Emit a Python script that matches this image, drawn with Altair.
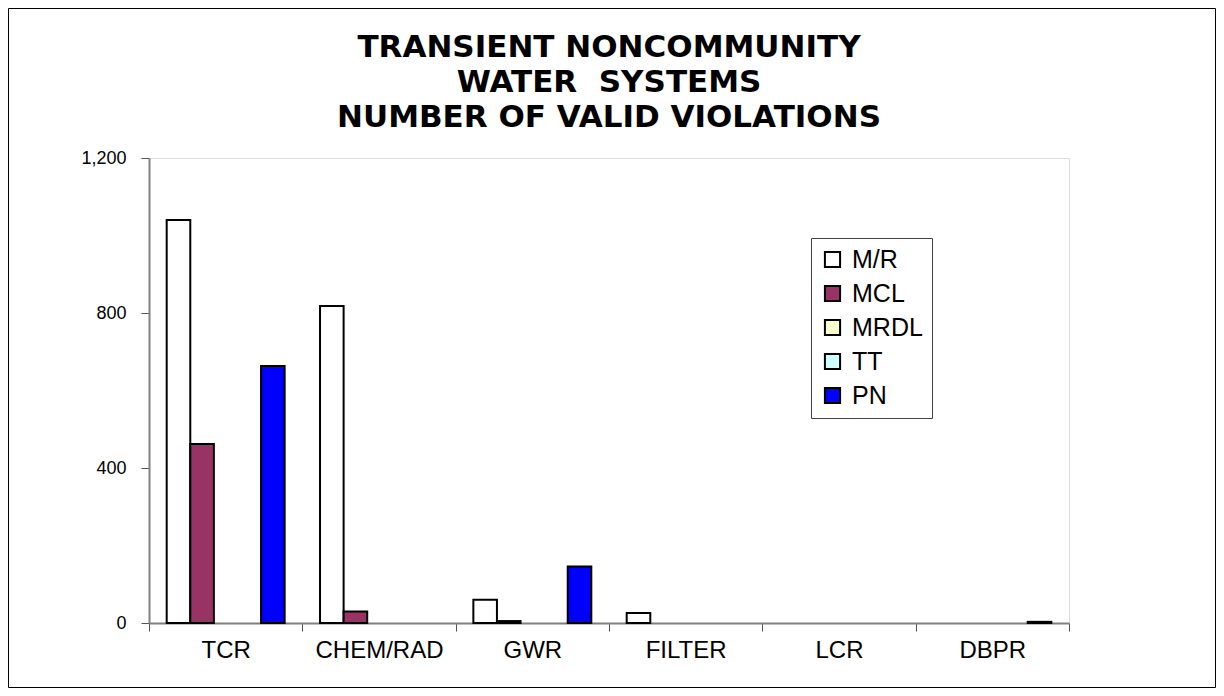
import altair as alt
import pandas as pd

categories = ["TCR", "CHEM/RAD", "GWR", "FILTER", "LCR", "DBPR"]
series = ["M/R", "MCL", "MRDL", "TT", "PN"]
mr = [1040, 818, 60, 26, 0, 0]
mcl = [462, 30, 5, 0, 0, 0]
mrdl = [0, 0, 0, 0, 0, 0]
tt = [0, 0, 0, 0, 0, 0]
pn = [663, 0, 146, 0, 0, 3]
colors = ["#FFFFFF", "#993366", "#FFFFCC", "#CCFFFF", "#0000FF"]
title_lines = ["TRANSIENT NONCOMMUNITY", "WATER\u00a0 SYSTEMS", "NUMBER OF VALID VIOLATIONS"]

rows = []
for s, vals in zip(series, [mr, mcl, mrdl, tt, pn]):
    for c, v in zip(categories, vals):
        rows.append({"category": c, "series": s, "value": v})
df = pd.DataFrame(rows)

FONT = "Liberation Sans"
TFONT = "DejaVu Sans"

bars = alt.Chart(df).transform_filter("datum.value > 0").mark_bar(
    stroke="black", strokeWidth=2
).encode(
    x=alt.X("category:N", sort=categories,
            scale=alt.Scale(domain=categories, paddingInner=0, paddingOuter=0),
            axis=alt.Axis(title=None, labelAngle=0, tickBand="extent", tickSize=8,
                          labelPadding=7, labelFontSize=24, labelFont=FONT,
                          labelColor="black", tickColor="#555555",
                          domainColor="#808080", domainWidth=2)),
    xOffset=alt.XOffset("series:N", sort=series,
                        scale=alt.Scale(domain=series, paddingInner=0, paddingOuter=0.75)),
    y=alt.Y("value:Q", scale=alt.Scale(domain=[0, 1200]),
            axis=alt.Axis(title=None, values=[0, 400, 800, 1200], format=",d", grid=False,
                          tickSize=8, labelPadding=15, labelFontSize=18, labelFont=FONT,
                          labelColor="black", tickColor="#555555",
                          domainColor="#808080", domainWidth=2)),
    color=alt.Color("series:N", sort=series,
                    scale=alt.Scale(domain=series, range=colors),
                    legend=alt.Legend(title=None, orient="none", legendX=662, legendY=80,
                                      fillColor="white", strokeColor="#444444",
                                      padding=9, symbolType="square", symbolSize=230,
                                      symbolStrokeColor="black", symbolStrokeWidth=2,
                                      labelFontSize=25, labelFont=FONT, labelColor="black",
                                      rowPadding=8, labelOffset=7)),
)

frame = alt.Chart(alt.Data(values=[{"a": 1}])).mark_rect(
    filled=False, stroke="black", strokeWidth=1
).encode(
    x=alt.value(-140.5), x2=alt.value(1066.5),
    y=alt.value(-149.5), y2=alt.value(529.5),
)

chart = alt.layer(bars, frame).properties(
    width=920, height=465,
    padding=0,
    title=alt.TitleParams(text=title_lines, fontSize=31, font=TFONT, fontWeight="bold",
                          color="black", anchor="middle", frame="group",
                          lineHeight=35, offset=-126),
).configure_view(stroke="#808080", strokeWidth=2).configure(background="white")

chart.save("out.html", embed_options={"renderer": "svg", "actions": False})
